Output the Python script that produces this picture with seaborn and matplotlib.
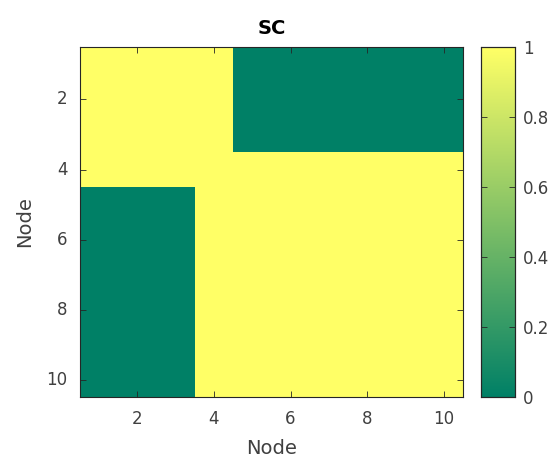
import numpy as np
import seaborn as sns
import matplotlib
matplotlib.use("Agg")
import matplotlib.pyplot as plt

# adjacency pattern (rows = node, cols = node)
nodes = list(range(1, 11))
rows_top = [1, 1, 1, 1, 0, 0, 0, 0, 0, 0]      # nodes 1-3
row_mid = [1, 1, 1, 1, 1, 1, 1, 1, 1, 1]       # node 4
rows_bottom = [0, 0, 0, 1, 1, 1, 1, 1, 1, 1]   # nodes 5-10
tick_nodes = [2, 4, 6, 8, 10]
cbar_ticks = [0, 0.2, 0.4, 0.6, 0.8, 1]

sc = np.array([rows_top] * 3 + [row_mid] + [rows_bottom] * 6, dtype=float)

sns.set_style("white")
plt.rcParams["font.family"] = ["DejaVu Sans"]
plt.rcParams["axes.axisbelow"] = False
txt = "#404040"
edge = "#262626"

fig = plt.figure(figsize=(5.55, 4.63), dpi=100)
ax = fig.add_axes([0.144, 0.1425, 0.690, 0.756])
cax = fig.add_axes([0.867, 0.1425, 0.061, 0.756])

sns.heatmap(sc, ax=ax, cbar_ax=cax, cmap="summer", vmin=0, vmax=1,
            square=False, linewidths=0)

pos = [n - 0.5 for n in tick_nodes]
ax.set_xticks(pos)
ax.set_xticklabels([str(n) for n in tick_nodes], rotation=0)
ax.set_yticks(pos)
ax.set_yticklabels([str(n) for n in tick_nodes], rotation=0)
ax.tick_params(direction="in", length=4, width=0.6, color=edge, labelsize=12,
               bottom=True, left=True, top=True, right=True, pad=9,
               labelcolor=txt)
ax.set_axisbelow(False)
for s in ax.spines.values():
    s.set_visible(True)
    s.set_color(edge)
    s.set_linewidth(0.8)

ax.set_xlabel("Node", fontsize=14, color=txt, labelpad=8)
ax.set_ylabel("Node", fontsize=14, color=txt, labelpad=9)
ax.set_title("SC", fontsize=14, fontweight="bold", color="black", pad=9)

cax.set_yticks(cbar_ticks)
cax.set_yticklabels(["0", "0.2", "0.4", "0.6", "0.8", "1"])
cax.tick_params(direction="in", length=4, width=0.6, color=edge, labelsize=12,
                left=True, right=True, pad=6, labelcolor=txt)
cax.set_axisbelow(False)
for s in cax.spines.values():
    s.set_visible(True)
    s.set_color(edge)
    s.set_linewidth(0.8)

fig.savefig("out.png", dpi=100)
